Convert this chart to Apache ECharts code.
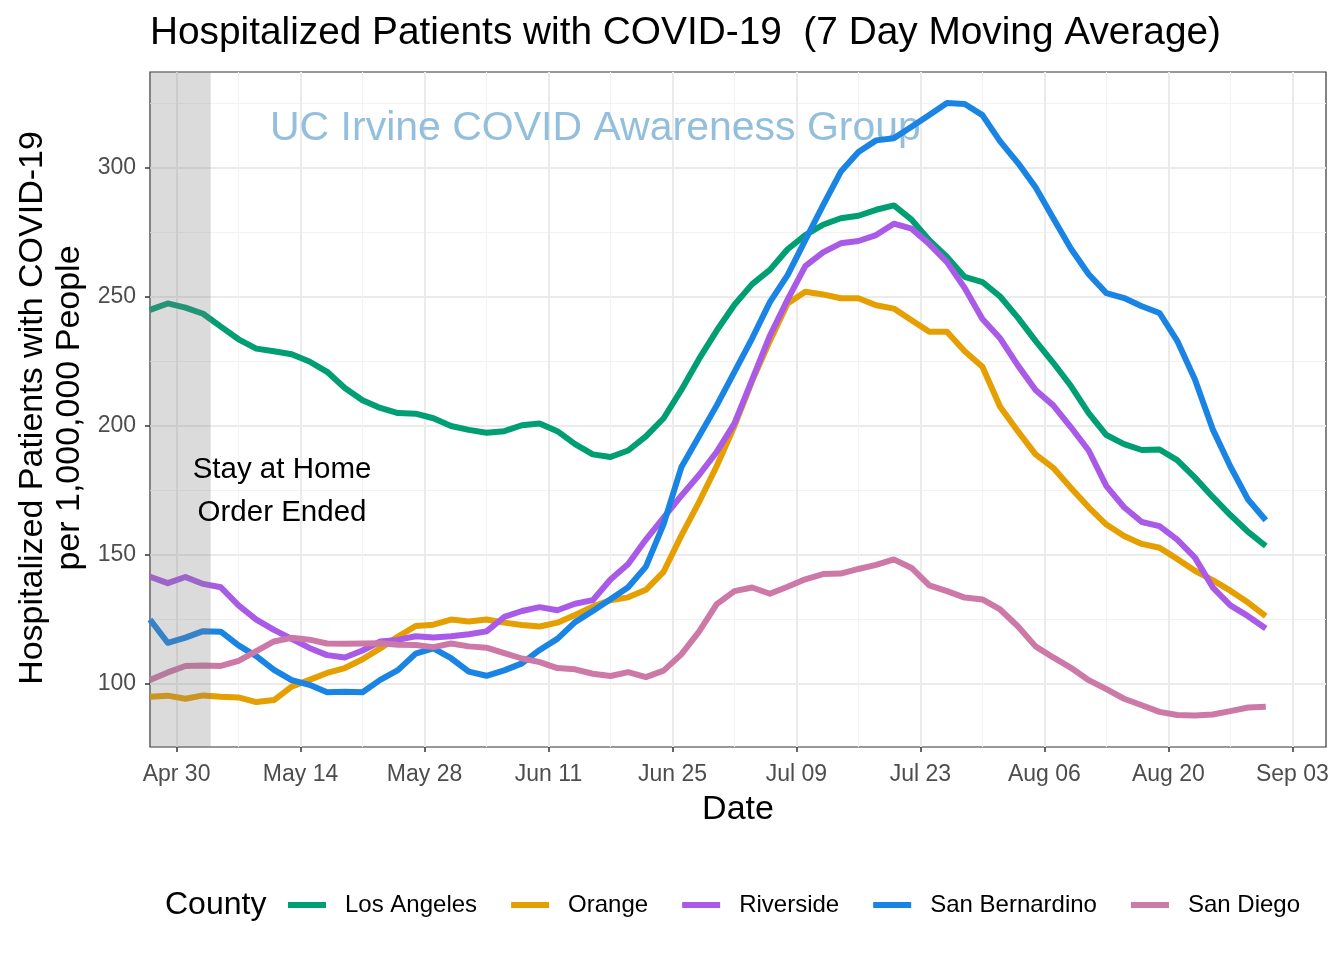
<!DOCTYPE html>
<html>
<head>
<meta charset="utf-8">
<script src="https://cdn.jsdelivr.net/npm/echarts@6/dist/echarts.min.js"></script>
<style>html,body{margin:0;padding:0;background:#fff;}#chart{width:1344px;height:960px;}</style>
</head>
<body>
<div id="chart"></div>
<script>
// Days counted from Apr 30 (day 0)
const days = [-3,-1,1,3,5,7,9,11,13,15,17,19,21,23,25,27,29,31,33,35,37,39,41,43,45,47,49,51,53,55,57,59,61,63,65,67,69,71,73,75,77,79,81,83,85,87,89,91,93,95,97,99,101,103,105,107,109,111,113,115,117,119,121,123];

const losAngeles = [245,247.5,245.9,243.5,238.5,233.6,230,229,
  227.8,225,221,214.7,210,207,205,204.8,
  203,200,198.5,197.4,198,200.3,201,198,
  193,189,188,190.5,196,203,214,226,
  237,247,255,260.5,268.5,274,278,280.5,
  281.5,283.8,285.5,280,272,265.5,257.8,255.8,
  250.2,242,233,224.5,215.5,205,196.5,193,
  190.7,190.9,186.8,180,172.5,165.5,159,153.5];

const orange = [95.1,95.5,94.3,95.6,95.1,94.8,93,93.8,
  99,101.6,104.3,106.2,109.6,113.8,118.4,122.5,
  123,125,124.2,125,123.8,122.9,122.3,123.8,
  126.8,130,132.5,133.6,136.5,143.5,157.5,170.5,
  184.5,200,217.5,233,247.5,252,251,249.5,
  249.5,246.8,245.5,241,236.5,236.5,229,223,
  207.5,198,189,183.8,176,168.5,161.8,157.4,
  154.3,152.8,148.5,143.9,140.3,136.2,131.6,126.3];

const riverside = [141.6,139.1,141.5,138.8,137.5,130.5,125,121,
  117.5,114,111.2,110.3,113,116.5,117.1,118.5,
  118,118.5,119.3,120.4,126,128.3,129.8,128.6,
  131.1,132.5,140.5,146.5,156,164.5,173,181,
  190,201,218,235,249,262,267.3,270.8,
  271.7,274,278.4,276.5,270.5,263.5,253.5,241.5,
  234,223.5,214,208,199.5,190.5,176.7,168.5,
  162.8,161.2,156,149,137.5,130.5,126.3,121.5];

const sanBernardino = [125,116,118,120.5,120.3,115,110.8,105.5,
  101.5,99.7,96.8,97,96.8,101.6,105.4,111.8,
  113.8,110,104.8,103.2,105.3,108,113.2,117.5,
  124,128.3,132.9,137.5,145.5,162,184,196,
  208,221,234,248,258.5,272,285.5,298.5,
  306.2,310.7,311.5,316,320.5,325.2,324.8,320.5,
  310.3,302,292.5,280.5,268.7,258.8,251.5,249.6,
  246.4,243.8,233,218,198.8,184.3,171.5,163.5];

const sanDiego = [101.6,104.5,107,107.2,107,109,112.8,116.5,
  117.9,117.2,115.7,115.6,115.7,115.8,115.2,115.1,
  114.3,115.7,114.6,114.1,112,109.9,108.5,106.2,
  105.7,104,103.1,104.6,102.7,105.2,111.5,120.3,
  131,136,137.4,135,137.7,140.6,142.6,142.8,
  144.6,146.2,148.3,145,138.2,136,133.5,132.8,
  128.9,122.4,114.6,110.3,106.3,101.5,98,94.3,
  91.8,89.2,88,87.8,88.2,89.5,90.9,91.2];

const countyNames = ['Los Angeles','Orange','Riverside','San Bernardino','San Diego'];
const countyColors = ['#009E73','#E69F00','#A95AE6','#1A84E4','#CC79A7'];

const xTickDays = [0,14,28,42,56,70,84,98,112,126];
const xTickLabels = ['Apr 30','May 14','May 28','Jun 11','Jun 25','Jul 09','Jul 23','Aug 06','Aug 20','Sep 03'];
const xMinorDays = [7,21,35,49,63,77,91,105,119];
const yTicks = [100,150,200,250,300];
const yMinorTicks = [125,175,225,275,325];

const stayHomeShade = [-3, 3.85]; // shaded period (days)

const FONT = '"Liberation Sans", Arial, Helvetica, sans-serif';

const seriesValues = [losAngeles, orange, riverside, sanBernardino, sanDiego];
const lineSeries = countyNames.map((name, i) => ({
  name: name,
  type: 'line',
  xAxisIndex: 0,
  yAxisIndex: 0,
  data: days.map((d, k) => [d, seriesValues[i][k]]),
  showSymbol: false,
  symbol: 'none',
  smooth: false,
  lineStyle: { color: countyColors[i], width: 6, cap: 'butt', join: 'round' },
  itemStyle: { color: countyColors[i] },
  z: 3,
  silent: true,
  animation: false
}));

const chart = echarts.init(document.getElementById('chart'), null, { renderer: 'canvas' });

const option = {
  animation: false,
  backgroundColor: '#ffffff',
  grid: { left: 150, right: 18, top: 72, bottom: 213, show: true, borderColor: '#333333', borderWidth: 1.2, backgroundColor: 'transparent', containLabel: false },
  xAxis: [
    {
      type: 'value', min: -3, max: 129.8, position: 'bottom',
      axisLine: { show: false, onZero: false },
      axisTick: { show: true, length: 5, lineStyle: { color: '#333333', width: 1.5 }, customValues: xTickDays },
      axisLabel: { show: true, margin: 16, color: '#4D4D4D', fontSize: 23, fontFamily: FONT, customValues: xTickDays,
        formatter: v => { const i = xTickDays.indexOf(Math.round(v)); return i >= 0 ? xTickLabels[i] : ''; } },
      splitLine: { show: true, lineStyle: { color: '#EBEBEB', width: 2 } }
    },
    {
      type: 'value', min: -3, max: 129.8, position: 'top',
      axisLine: { show: false, onZero: false },
      axisTick: { show: false, customValues: xMinorDays },
      axisLabel: { show: false, customValues: xMinorDays },
      splitLine: { show: true, lineStyle: { color: '#F2F2F2', width: 1 } }
    }
  ],
  yAxis: [
    {
      type: 'value', min: 75.6, max: 337.2, position: 'left',
      axisLine: { show: false, onZero: false },
      axisTick: { show: true, length: 5, lineStyle: { color: '#333333', width: 1.5 }, customValues: yTicks },
      axisLabel: { show: true, margin: 14, color: '#4D4D4D', fontSize: 23, fontFamily: FONT, customValues: yTicks },
      splitLine: { show: true, lineStyle: { color: '#EBEBEB', width: 2 } }
    },
    {
      type: 'value', min: 75.6, max: 337.2, position: 'right',
      axisLine: { show: false, onZero: false },
      axisTick: { show: false, customValues: yMinorTicks },
      axisLabel: { show: false, customValues: yMinorTicks },
      splitLine: { show: true, lineStyle: { color: '#F2F2F2', width: 1 } }
    }
  ],
  legend: {
    data: countyNames,
    left: 288, top: 893,
    orient: 'horizontal',
    icon: 'rect',
    itemWidth: 38, itemHeight: 6,
    itemGap: 34,
    padding: 0,
    textStyle: { fontSize: 24, fontFamily: FONT, color: '#000000', padding: [0, 0, 0, 14] },
    selectedMode: false
  },
  graphic: [
    { type: 'text', x: 150, y: 33, z: 10, style: { text: 'Hospitalized Patients with COVID-19  (7 Day Moving Average)', font: '38.8px ' + FONT, fill: '#000000', align: 'left', verticalAlign: 'middle' } },
    { type: 'text', x: 270, y: 129, z: 1, zlevel: 0, style: { text: 'UC Irvine COVID Awareness Group', font: '41px ' + FONT, fill: '#93BFDC', align: 'left', verticalAlign: 'middle' } },
    { type: 'text', x: 282, y: 491, z: 20, style: { text: 'Stay at Home\nOrder Ended', font: '29.5px ' + FONT, fill: '#000000', align: 'center', verticalAlign: 'middle', lineHeight: 43 } },
    { type: 'text', x: 51, y: 408, rotation: Math.PI / 2, z: 10, style: { text: 'Hospitalized Patients with COVID-19\nper 1,000,000 People', font: '34px ' + FONT, fill: '#000000', align: 'center', verticalAlign: 'middle', lineHeight: 37 } },
    { type: 'text', x: 738, y: 810, z: 10, style: { text: 'Date', font: '34px ' + FONT, fill: '#000000', align: 'center', verticalAlign: 'middle' } },
    { type: 'text', x: 165, y: 905, z: 10, style: { text: 'County', font: '32px ' + FONT, fill: '#000000', align: 'left', verticalAlign: 'middle' } }
  ],
  series: lineSeries.concat([{
    name: 'shade',
    type: 'custom',
    xAxisIndex: 0, yAxisIndex: 0,
    data: [stayHomeShade],
    z: 10,
    silent: true,
    clip: true,
    encode: { x: [0, 1] },
    renderItem: function (params, api) {
      const x0 = api.coord([api.value(0), 100])[0];
      const x1 = api.coord([api.value(1), 100])[0];
      const cs = params.coordSys;
      return { type: 'rect', shape: { x: x0, y: cs.y, width: x1 - x0, height: cs.height }, style: { fill: 'rgba(127,127,127,0.28)' } };
    }
  }])
};
chart.setOption(option);
</script>
</body>
</html>
